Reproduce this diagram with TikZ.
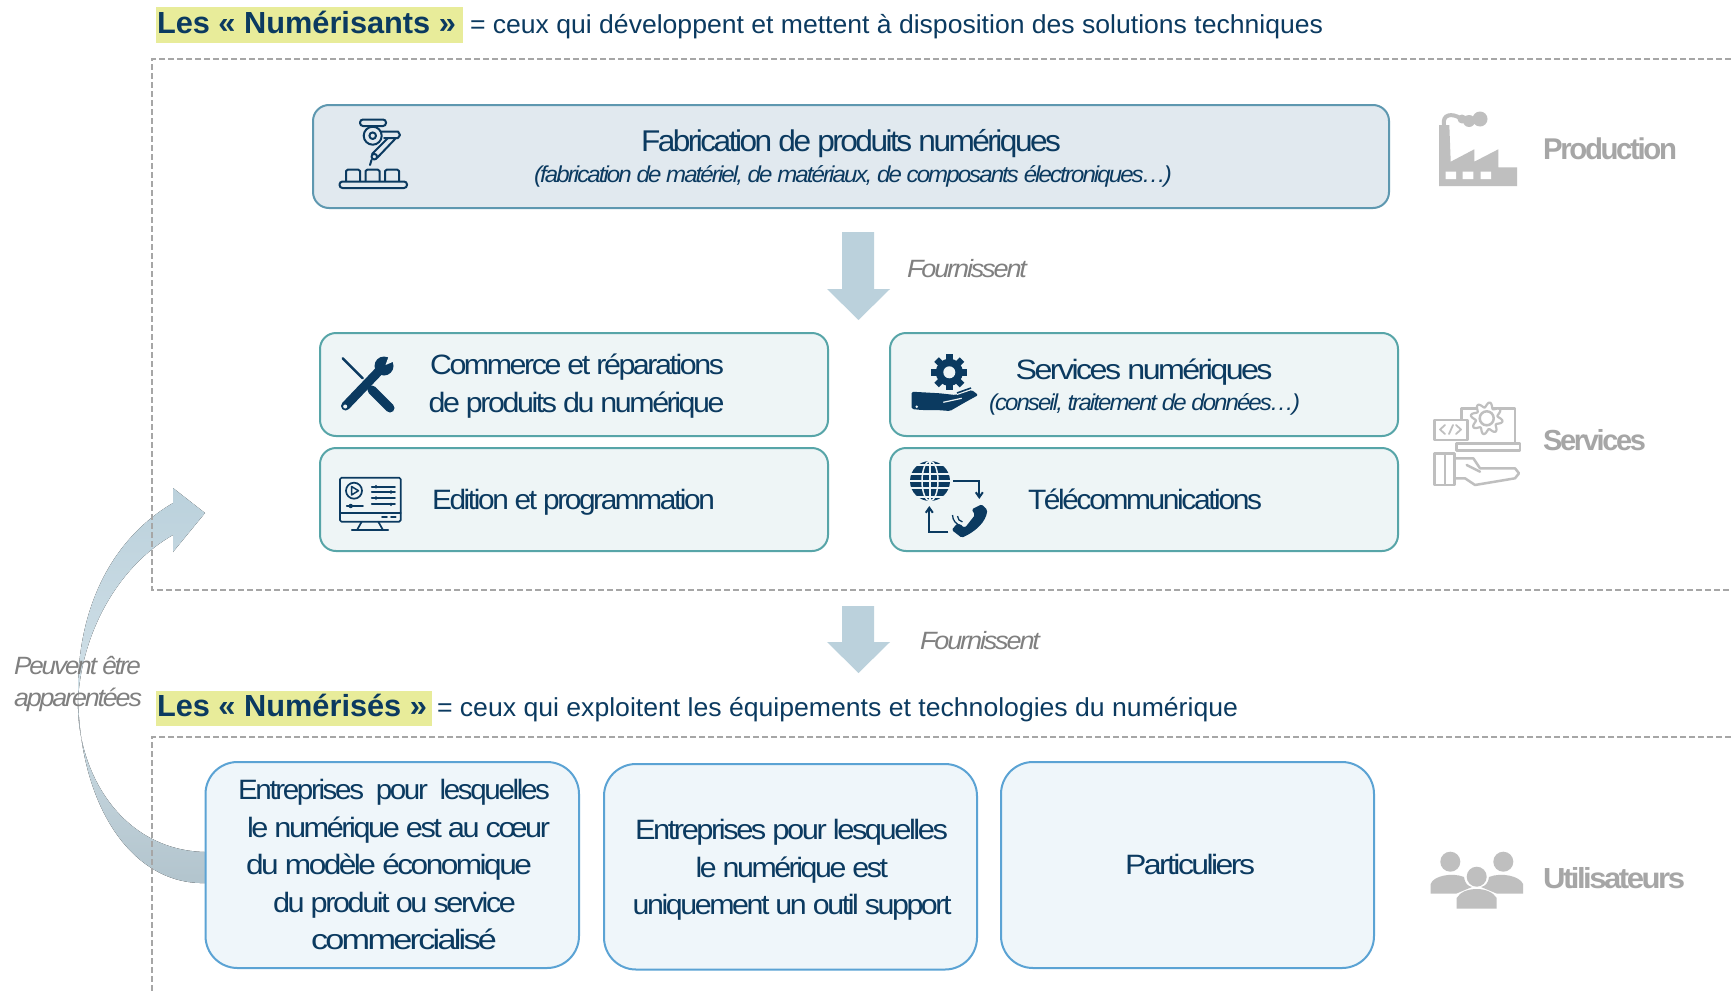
\documentclass[tikz,border=0pt]{standalone}
\usepackage{fontspec}
\usepackage{graphicx}
\usetikzlibrary{arrows.meta}
\setmainfont{Liberation Sans}
\newfontfamily\tight[LetterSpace=-8]{Liberation Sans}
\newcommand{\fw}[2]{\resizebox{#1pt}{\height}{#2}}
\definecolor{navy}{HTML}{0B3A60}
\definecolor{gtext}{HTML}{A6A6A6}
\definecolor{gital}{HTML}{808080}
\definecolor{gicon}{HTML}{BFBFBF}
\definecolor{hl}{HTML}{E8EC9A}
\definecolor{dashc}{HTML}{A6A6A6}
\definecolor{arrowc}{HTML}{BBD1DC}
\definecolor{arrowd}{HTML}{B2C4CD}
\definecolor{fabfill}{HTML}{E1E9EF}
\definecolor{fabline}{HTML}{5E98B0}
\definecolor{tealfill}{HTML}{EEF5F6}
\definecolor{tealline}{HTML}{57A5A8}
\definecolor{bluefill}{HTML}{EFF6FA}
\definecolor{blueline}{HTML}{5BA3D4}
\tikzset{
  lbl/.style={inner sep=0pt,outer sep=0pt,anchor=base west,yshift=1pt},
  maintxt/.style={lbl,text=navy,font=\tight\fontsize{28}{30}\selectfont},
  subtxt/.style={lbl,text=navy,font=\tight\itshape\fontsize{23}{25}\selectfont},
  headb/.style={lbl,text=navy,font=\bfseries\fontsize{30.5}{32}\selectfont},
  headr/.style={lbl,text=navy,font=\fontsize{26}{28}\selectfont},
  grayital/.style={lbl,text=gital,font=\tight\itshape\fontsize{25}{27}\selectfont},
  sidetxt/.style={lbl,text=gtext,font=\tight\bfseries\fontsize{29}{31}\selectfont},
  fabbox/.style={draw=fabline,fill=fabfill,line width=2pt,rounded corners=16pt},
  tealbox/.style={draw=tealline,fill=tealfill,line width=2pt,rounded corners=16pt},
  bluebox/.style={draw=blueline,fill=bluefill,line width=2pt,rounded corners=32pt},
  dashbox/.style={draw=dashc,line width=1.5pt,dash pattern=on 6pt off 3pt},
  block/.style={fill=arrowc},
  ic/.style={draw=navy,line width=2pt,line cap=round,line join=round},
  gi/.style={draw=gicon,line width=2.5pt,line join=round,line cap=round},
}
\begin{document}
\begin{tikzpicture}[x=1pt,y=-1pt]
\useasboundingbox (0,0) rectangle (1731,993);
\fill[white] (0,0) rectangle (1731,993);

% curved arrow
\fill[top color=arrowc,bottom color=arrowd,middle color=arrowc!70!white] (205,883)
  .. controls (135,885) and (78,810) .. (78,690)
  .. controls (78,610) and (110,540) .. (173,503)
  -- (173,488) -- (205,513) -- (173,552) -- (173,535)
  .. controls (120,565) and (82,630) .. (78,700)
  .. controls (76,770) and (120,850) .. (205,852)
  -- cycle;

% dashed frames
\draw[dashbox] (1731,59) -- (152,59) -- (152,590) -- (1731,590);
\draw[dashbox] (1731,737) -- (152,737) -- (152,993);

% headers
\fill[hl] (156,7) rectangle (463,43);
\node[headb] (h1) at (157,34) {\fw{299}{Les «~Numérisants~»}};
\node[headr] (h1r) at (470,34) {\fw{853}{= ceux qui développent et mettent à disposition des solutions techniques}};
\fill[hl] (156,691) rectangle (432,726);
\node[headb] (h2) at (157,717) {\fw{270}{Les «~Numérisés~»}};
\node[headr] (h2r) at (437,717.5) {\fw{801}{= ceux qui exploitent les équipements et technologies du numérique}};

% boxes
\draw[fabbox] (313,105) rectangle (1389,208);
\draw[tealbox] (320,333) rectangle (828,436);
\draw[tealbox] (320,448) rectangle (828,551);
\draw[tealbox] (890,333) rectangle (1398,436);
\draw[tealbox] (890,448) rectangle (1398,551);
\draw[bluebox] (205.5,762) rectangle (579,968);
\draw[bluebox] (604,764) rectangle (977,969.5);
\draw[bluebox] (1001,762) rectangle (1374,968);

% block arrows
\fill[block] (842,232) -- (874,232) -- (874,289) -- (890,289) -- (858.5,320) -- (827,289) -- (842,289) -- cycle;
\fill[block] (842,606) -- (874,606) -- (874,642) -- (890,642) -- (858.5,673) -- (827,642) -- (842,642) -- cycle;

% texts
\node[maintxt,font=\tight\fontsize{30}{32}\selectfont] (fab) at (641,152) {\fw{420}{Fabrication de produits numériques}};
\node[subtxt] (fabs) at (534,183) {\fw{638}{(fabrication de matériel, de matériaux, de composants électroniques…)}};
\node[grayital] (f1) at (907,278) {\fw{120}{Fournissent}};
\node[grayital] (f2) at (920,650) {\fw{120}{Fournissent}};
\node[maintxt] (c1) at (430,375) {\fw{294}{Commerce et réparations}};
\node[maintxt] (c2) at (428.6,413) {\fw{296}{de produits du numérique}};
\node[maintxt] (ed) at (432,510) {\fw{283}{Edition et programmation}};
\node[maintxt] (sv) at (1015.6,380.7) {\fw{257}{Services numériques}};
\node[subtxt] (svs) at (989,411.7) {\fw{311}{(conseil, traitement de données…)}};
\node[maintxt] (tel) at (1028,510) {\fw{234}{Télécommunications}};
\node[maintxt] (e1) at (238,800.7) {\fw{312}{Entreprises~~pour~~lesquelles}};
\node[maintxt] (e2) at (247,838.3) {\fw{303}{le numérique est au cœur}};
\node[maintxt] (e3) at (246,875.7) {\fw{286}{du modèle économique}};
\node[maintxt] (e4) at (273,913.3) {\fw{243}{du produit ou service}};
\node[maintxt] (e5) at (311,950.7) {\fw{186}{commercialisé}};
\node[maintxt] (g1) at (635,840) {\fw{313}{Entreprises pour lesquelles}};
\node[maintxt] (g2) at (695.5,878) {\fw{192.5}{le numérique est}};
\node[maintxt] (g3) at (632.6,915) {\fw{319}{uniquement un outil support}};
\node[maintxt] (pa) at (1125,875.5) {\fw{130}{Particuliers}};
\node[sidetxt,font=\tight\bfseries\fontsize{30}{32}\selectfont] (sp) at (1543,160.7) {\fw{134}{Production}};
\node[sidetxt] (ss) at (1543,451) {\fw{103}{Services}};
\node[sidetxt] (su) at (1543,889.3) {\fw{142}{Utilisateurs}};
\node[grayital] (p1) at (14,675) {\fw{127}{Peuvent être}};
\node[grayital] (p2) at (14,707) {\fw{128}{apparentées}};

% robot icon
\draw[ic,rounded corners=3pt] (360,119.5) rectangle (386,126);
\draw[ic] (372.7,135.7) circle (9);
\draw[ic] (372.7,135.7) circle (3.3);
\draw[ic] (381,131.5) -- (398,131.5) -- (400,135) -- (398,138) -- (384,138);
\draw[ic] (396,138) -- (377,158);
\draw[ic] (388,138) -- (372,154);
\draw[ic] (374.3,156.7) circle (2.8);
\draw[ic] (371.5,160) -- (370,165);
\draw[ic] (346,181) -- (346,171) -- (348,169.5) -- (358,169.5) -- (360,171) -- (360,181);
\draw[ic] (365.5,181) -- (365.5,171) -- (367.5,169.5) -- (377.5,169.5) -- (379.5,171) -- (379.5,181);
\draw[ic] (385,181) -- (385,171) -- (387,169.5) -- (397,169.5) -- (399,171) -- (399,181);
\draw[ic,rounded corners=3pt] (339.5,181.5) rectangle (407,188);

% tools icon
\draw[navy,line width=2.6pt,line cap=round] (342.7,358.3) -- (362.7,378.3);
\draw[navy,line width=9pt,line cap=round] (372,390) -- (390,408);
\draw[navy,line width=9pt,line cap=round] (345.5,406) -- (379,371);
\fill[navy] (384,366) circle (9.5);
\fill[tealfill] (385.5,365) -- (389.5,354) -- (396,360.5) -- cycle;
\fill[tealfill] (345.2,406.5) circle (2);

% monitor icon
\draw[ic,line width=1.7pt,rounded corners=1.5pt] (340,477.7) rectangle (400.7,521.7);
\draw[ic,line width=1.7pt] (340,512.7) -- (400.7,512.7);
\draw[ic,line width=1.7pt] (354,490.7) circle (8);
\draw[ic,line width=1.5pt] (351.5,486.5) -- (358.5,490.7) -- (351.5,495) -- cycle;
\draw[ic,line width=1.7pt] (346.7,506) -- (363,506);
\fill[navy] (350.7,506) circle (2.2);
\foreach \yy/\xx in {486.7/376,492/391,498/376,504.3/391}{
  \draw[ic,line width=1.7pt] (371.7,\yy) -- (395,\yy);
  \fill[navy] (\xx,\yy) circle (1.8);
}
\draw[ic,line width=1.7pt] (382,516.7) -- (387,516.7) (391,516.7) -- (395.7,516.7);
\draw[ic,line width=1.7pt] (361.7,521.7) -- (357.3,529.5) (378.3,521.7) -- (382.7,529.5) (351.7,530) -- (388.3,530);

% gear and hand icon
\fill[navy] (949.3,372.3) circle (13.5);
\foreach \a in {0,45,...,315}{
  \draw[navy,line width=6.5pt] (949.3,372.3) -- ++(\a:18);
}
\fill[tealfill] (949.3,372.3) circle (6);
\fill[navy,rounded corners=1.5pt] (911.7,391.7) -- (940,393.3) -- (955,395) -- (971.7,390) -- (978.3,395) -- (963.3,403.3) -- (950,411) -- (936.7,410) -- (921.7,410) -- (911.7,409) -- cycle;
\draw[tealfill,line width=1.2pt] (943.3,402.3) -- (961.7,398.3);
\draw[tealfill,line width=1pt] (957,394.5) -- (970,390) (958,392) -- (966,389);
\fill[tealfill] (916.7,406.7) circle (1.4);
\draw[navy,line width=1.6pt] (957,393) -- (971,388);

% globe and phone icon
\fill[navy] (930,481) circle (20);
\draw[tealfill,line width=1.5pt] (930,481) ellipse (8 and 20);
\draw[tealfill,line width=1.5pt] (930,461) -- (930,501);
\draw[tealfill,line width=1.5pt] (909,474) -- (951,474) (908,481) -- (952,481) (909,488) -- (951,488);
\draw[tealfill,line width=1.3pt] (915,465) -- (945,465) (915,497) -- (945,497);
\draw[navy,line width=2pt,-{Straight Barb[length=5pt,width=7pt]}] (953.3,480.7) -- (979.3,480.7) -- (979.3,499);
\draw[navy,line width=2pt,-{Straight Barb[length=5pt,width=7pt]}] (948.3,532.3) -- (929.3,532.3) -- (929.3,506);
\fill[navy,rounded corners=1.5pt] (981.7,504.3) -- (987.3,510) .. controls (986,522) and (975,532) .. (961.7,537.7) -- (951.7,530) -- (957.3,523.3) -- (965,527.7) -- (975,515) -- (971.7,509.3) -- cycle;
\draw[navy,line width=1.3pt] (952.5,515) arc (180:100:11);
\draw[navy,line width=1.3pt] (957.5,516) arc (180:100:6);

% factory icon
\fill[gicon] (1439,125) -- (1449.3,125) -- (1450.7,161.7) -- (1474.3,149.3) -- (1474.3,161.7) -- (1498.3,149.3) -- (1498.3,167.3) -- (1517,167.3) -- (1517,186) -- (1439,186) -- cycle;
\fill[white] (1445.7,171.7) rectangle (1456,179) (1462.7,171.7) rectangle (1473.3,179) (1480.7,171.7) rectangle (1491,179);
\draw[gicon,line width=4pt] (1444,125) .. controls (1442,114) and (1452,113) .. (1460,118);
\fill[gicon] (1462,119) circle (4.5) (1469,121) circle (6) (1480,119) circle (7.5);

% services icon
\draw[gi] (1461.7,438.3) -- (1461.7,408.3) -- (1515,408.3) -- (1515,443.3);
\draw[gi,fill=white] (1456.7,443.3) rectangle (1520,450.7);
\draw[gi,fill=white,line width=2.2pt] plot[domain=0:360,samples=145,variable=\t] ({1486.7+(13.5+2.5*sin(8*\t))*cos(\t)},{418.3+(13.5+2.5*sin(8*\t))*sin(\t)}) -- cycle;
\draw[gi] (1486.7,418.3) circle (7);
\draw[gi,fill=white] (1434.3,420) rectangle (1467.7,440);
\draw[gi,line width=1.8pt] (1445,425) -- (1440,429.5) -- (1445,434) (1456,425) -- (1461,429.5) -- (1456,434) (1453,425) -- (1449,434);
\draw[gi] (1434.3,453.3) rectangle (1445,485) (1445,453.3) rectangle (1454.3,485);
\draw[gi] (1454.3,458.3) -- (1473.3,458.3) -- (1480,468.3) -- (1515,468.3) -- (1519,473.3) -- (1515,478.3) -- (1475,485) -- (1465,478.3) -- (1454.3,478.3);
\draw[gi] (1466.7,465) -- (1480,471.7);

% users icon
\fill[gicon] (1450.3,861.7) circle (10) (1503.3,861.7) circle (10) (1476.7,876.7) circle (10);
\fill[gicon] (1430.7,893.7) -- (1430.7,884) .. controls (1433,876) and (1452,872) .. (1464,877) .. controls (1465,884) and (1468,886) .. (1472,887) -- (1456,893.7) -- cycle;
\fill[gicon] (1523,893.7) -- (1523,884) .. controls (1520,876) and (1501,872) .. (1489,877) .. controls (1488,884) and (1485,886) .. (1481,887) -- (1497,893.7) -- cycle;
\fill[gicon] (1456.7,908.7) -- (1456.7,898) .. controls (1460,892) and (1468,889) .. (1476.7,889) .. controls (1485,889) and (1493,892) .. (1496.7,898) -- (1496.7,908.7) -- cycle;
\end{tikzpicture}
\end{document}
